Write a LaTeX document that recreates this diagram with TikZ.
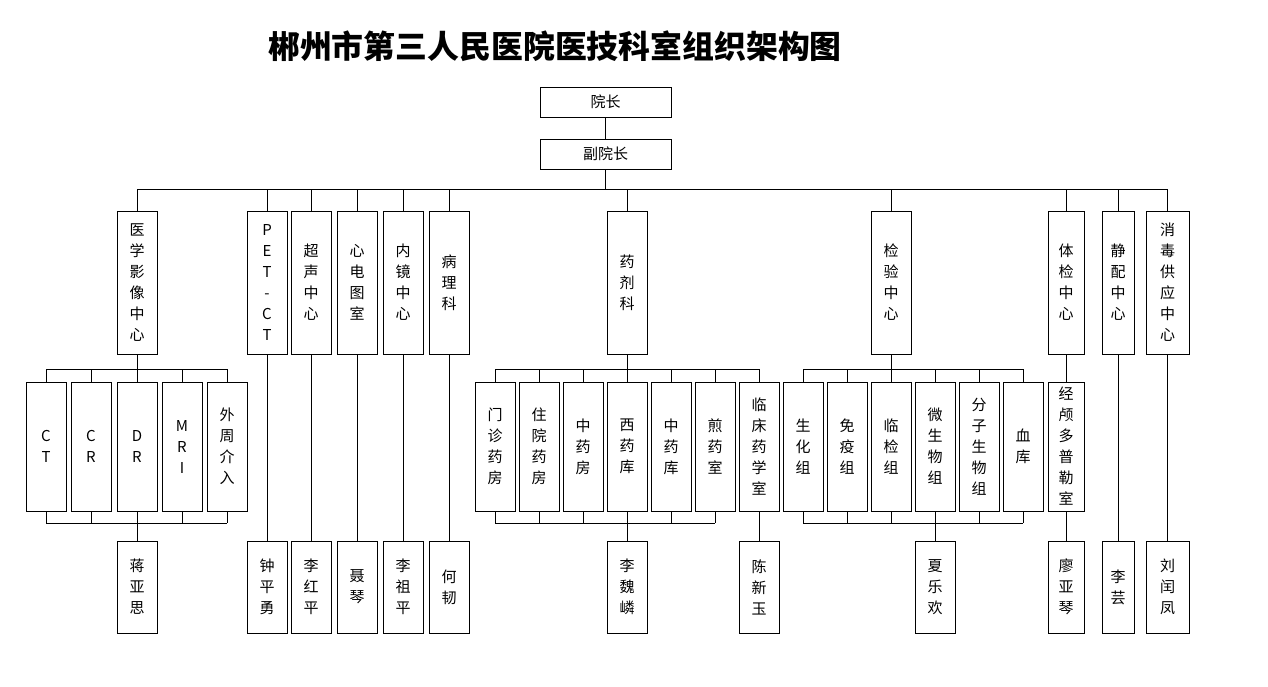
\documentclass[tikz,border=0pt]{standalone}
\usepackage{fontspec}
\newfontfamily\cjk{Noto Sans CJK SC}
\tikzset{
  nbox/.style={draw, line width=0.75pt, inner sep=0pt, align=center,
    font=\cjk\fontsize{11.25pt}{15.75pt}\selectfont},
  hbox/.style={nbox, minimum width=131*0.75pt, minimum height=30*0.75pt},
  topbox/.style={nbox, minimum width=40*0.75pt, minimum height=143*0.75pt},
  subbox/.style={nbox, minimum width=40*0.75pt, minimum height=129*0.75pt},
  perbox/.style={nbox, minimum width=40*0.75pt, minimum height=92*0.75pt},
  wire/.style={line width=0.75pt}
}
\begin{document}
\begin{tikzpicture}[x=0.75pt,y=-0.75pt]
\useasboundingbox[fill=white] (0,0) rectangle (1268,686);
\node[font=\cjk\bfseries\fontsize{23.9pt}{23.9pt}\selectfont] (title) at (555,46) {郴州市第三人民医院医技科室组织架构图};
% leaders
\node[hbox] (yz) at (605.5,102) {院长};
\node[hbox] (fyz) at (605.5,154) {副院长};
% top row
\node[topbox] (yx) at (137,282.5) {医\\学\\影\\像\\中\\心};
\node[topbox] (pet) at (267,282.5) {P\\E\\T\\-\\C\\T};
\node[topbox] (cs) at (311,282.5) {超\\声\\中\\心};
\node[topbox] (xd) at (357,282.5) {心\\电\\图\\室};
\node[topbox] (nj) at (403,282.5) {内\\镜\\中\\心};
\node[topbox] (bl) at (449,282.5) {病\\理\\科};
\node[topbox] (yj) at (627,282.5) {药\\剂\\科};
\node[topbox] (jy) at (891,282.5) {检\\验\\中\\心};
\node[topbox, minimum width=36*0.75pt] (tj) at (1066,282.5) {体\\检\\中\\心};
\node[topbox, minimum width=32*0.75pt] (jp) at (1118,282.5) {静\\配\\中\\心};
\node[topbox, minimum width=43*0.75pt] (xs) at (1167.5,282.5) {消\\毒\\供\\应\\中\\心};
% sub row
\node[subbox] (ct) at (46,446.5) {C\\T};
\node[subbox] (cr) at (91,446.5) {C\\R};
\node[subbox] (dr) at (137,446.5) {D\\R};
\node[subbox] (mri) at (182,446.5) {M\\R\\I};
\node[subbox] (wz) at (227,446.5) {外\\周\\介\\入};
\node[subbox] (mz) at (495,446.5) {门\\诊\\药\\房};
\node[subbox] (zy) at (539,446.5) {住\\院\\药\\房};
\node[subbox] (zyf) at (583,446.5) {中\\药\\房};
\node[subbox] (xyk) at (627,446.5) {西\\药\\库};
\node[subbox] (zyk) at (671,446.5) {中\\药\\库};
\node[subbox] (jys) at (715,446.5) {煎\\药\\室};
\node[subbox] (lc) at (759,446.5) {临\\床\\药\\学\\室};
\node[subbox] (sh) at (803,446.5) {生\\化\\组};
\node[subbox] (my) at (847,446.5) {免\\疫\\组};
\node[subbox] (lj) at (891,446.5) {临\\检\\组};
\node[subbox] (ws) at (935,446.5) {微\\生\\物\\组};
\node[subbox] (fz) at (979,446.5) {分\\子\\生\\物\\组};
\node[subbox] (xk) at (1023,446.5) {血\\库};
\node[subbox, minimum width=36*0.75pt] (jl) at (1066,446.5) {经\\颅\\多\\普\\勒\\室};
% persons
\node[perbox] (p1) at (137,587) {蒋\\亚\\思};
\node[perbox] (p2) at (267,587) {钟\\平\\勇};
\node[perbox] (p3) at (311,587) {李\\红\\平};
\node[perbox] (p4) at (357,587) {聂\\琴};
\node[perbox] (p5) at (403,587) {李\\祖\\平};
\node[perbox] (p6) at (449,587) {何\\韧};
\node[perbox] (p7) at (627,587) {李\\魏\\嶙};
\node[perbox] (p8) at (759,587) {陈\\新\\玉};
\node[perbox] (p9) at (935,587) {夏\\乐\\欢};
\node[perbox, minimum width=36*0.75pt] (p10) at (1066,587) {廖\\亚\\琴};
\node[perbox, minimum width=32*0.75pt] (p11) at (1118,587) {李\\芸};
\node[perbox, minimum width=43*0.75pt] (p12) at (1167.5,587) {刘\\闰\\凤};
% bus levels
\coordinate (busY) at (0,189);
\coordinate (subY) at (0,369);
\coordinate (lowY) at (0,523);
% top connectors
\draw[wire] (yz) -- (fyz);
\draw[wire] (fyz.south) -- (fyz.south |- busY);
\draw[wire] (yx.north |- busY) -- (xs.north |- busY);
\foreach \n in {yx,pet,cs,xd,nj,bl,yj,jy,tj,jp,xs}
  \draw[wire] (\n.north) -- (\n.north |- busY);
% group 1
\draw[wire] (yx.south) -- (yx.south |- subY);
\draw[wire] (ct.north |- subY) -- (wz.north |- subY);
\draw[wire] (ct.south |- lowY) -- (wz.south |- lowY);
\foreach \n in {ct,cr,dr,mri,wz}{
  \draw[wire] (\n.north) -- (\n.north |- subY);
  \draw[wire] (\n.south) -- (\n.south |- lowY);}
\draw[wire] (dr.south) -- (p1.north);
% group 2
\draw[wire] (yj.south) -- (yj.south |- subY);
\draw[wire] (mz.north |- subY) -- (lc.north |- subY);
\draw[wire] (mz.south |- lowY) -- (jys.south |- lowY);
\foreach \n in {mz,zy,zyf,xyk,zyk,jys,lc}
  \draw[wire] (\n.north) -- (\n.north |- subY);
\foreach \n in {mz,zy,zyf,xyk,zyk,jys}
  \draw[wire] (\n.south) -- (\n.south |- lowY);
\draw[wire] (xyk.south) -- (p7.north);
\draw[wire] (lc.south) -- (p8.north);
% group 3
\draw[wire] (jy.south) -- (jy.south |- subY);
\draw[wire] (sh.north |- subY) -- (xk.north |- subY);
\draw[wire] (sh.south |- lowY) -- (xk.south |- lowY);
\foreach \n in {sh,my,lj,ws,fz,xk}{
  \draw[wire] (\n.north) -- (\n.north |- subY);
  \draw[wire] (\n.south) -- (\n.south |- lowY);}
\draw[wire] (ws.south) -- (p9.north);
% single chains
\draw[wire] (pet) -- (p2);
\draw[wire] (cs) -- (p3);
\draw[wire] (xd) -- (p4);
\draw[wire] (nj) -- (p5);
\draw[wire] (bl) -- (p6);
\draw[wire] (tj) -- (jl);
\draw[wire] (jl) -- (p10);
\draw[wire] (jp) -- (p11);
\draw[wire] (xs) -- (p12);
\end{tikzpicture}
\end{document}
